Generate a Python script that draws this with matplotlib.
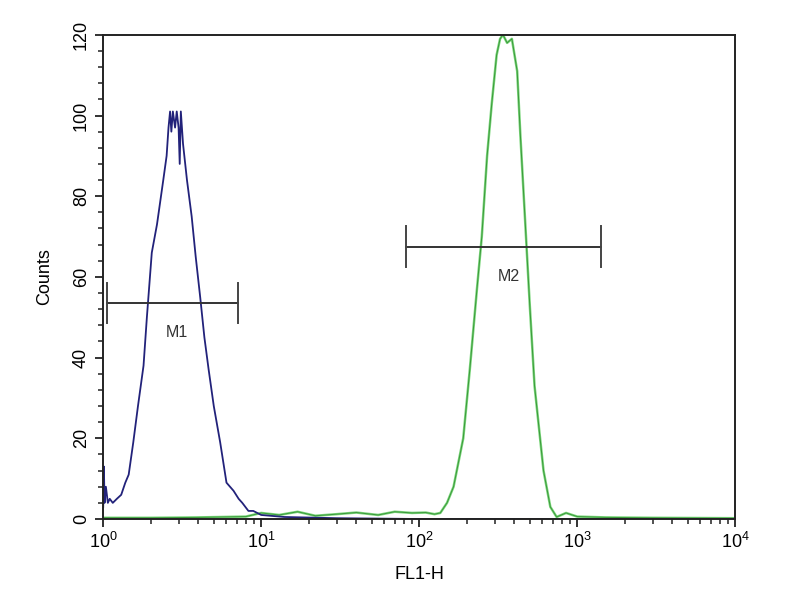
"""
Flow cytometry histogram, FL1-H
"""
import numpy as np
import matplotlib
matplotlib.use('Agg')
import matplotlib.pyplot as plt
from matplotlib.ticker import MultipleLocator, LogLocator

plt.rcParams['font.family'] = ['Liberation Sans', 'DejaVu Sans']
plt.rcParams['mathtext.fontset'] = 'custom'
plt.rcParams['mathtext.rm'] = 'Liberation Sans'

# control (blue) histogram
blue_x = [1.0, 1.01, 1.02, 1.04, 1.07, 1.1, 1.15, 1.22, 1.3, 1.38, 1.45, 1.55,
          1.66, 1.80, 1.89, 2.03, 2.19, 2.40, 2.52, 2.59, 2.65, 2.70, 2.76,
          2.85, 2.92, 3.0, 3.05, 3.10, 3.2, 3.39, 3.63, 3.85, 4.11, 4.37,
          4.65, 5.01, 5.50, 6.03, 6.68, 7.2, 7.59, 8.3, 8.91, 10.0, 14.0,
          30.0, 100.0, 1000.0, 10000.0]
blue_y = [3, 13, 4, 8, 4, 5, 4, 5, 6, 9, 11, 19,
          28, 38, 50, 66, 73, 84, 90, 97, 101, 96, 101,
          97, 101, 97, 88, 101, 93, 84, 75, 65, 55, 45,
          37, 28, 19, 9, 7, 5, 4, 2, 2, 1, 0.5,
          0.2, 0, 0, 0]

# antibody stained (green) histogram
green_x = [1.0, 2.0, 4.0, 8.0, 10.0, 13.0, 17.0, 22.0, 30.0, 40.0, 55.0,
           70.0, 90.0, 110.0, 125.0, 136.0, 150.0, 165.0, 190.0, 209.0,
           232.0, 249.0, 269.0, 288.0, 309.0, 325.0, 339.0, 360.0, 386.0,
           417.0, 437.0, 468.0, 501.0, 537.0, 575.0, 612.0, 676.0, 741.0,
           850.0, 1000.0, 1500.0, 3000.0, 10000.0]
green_y = [0.3, 0.3, 0.4, 0.6, 1.5, 1.0, 1.8, 0.8, 1.2, 1.6, 1.0,
           1.8, 1.5, 1.6, 1.2, 1.5, 4, 8, 20, 37,
           57, 70, 90, 103, 115, 119, 120, 118, 119,
           111, 95, 74, 53, 33, 22, 12, 3, 0.5,
           1.5, 0.6, 0.4, 0.3, 0.2]

# marker gates: (name, start, end, height)
gate_names = ['M1', 'M2']
gate_start = [1.06, 83.0]
gate_end = [7.1, 1415.0]
gate_level = [53.5, 67.5]

fig = plt.figure(figsize=(8, 6), dpi=100)
ax = fig.add_axes([0.129, 0.135, 0.790, 0.807])

ax.plot(green_x, green_y, color='#5ccc5c', linewidth=1.8, alpha=0.8)
ax.plot(green_x, green_y, color='#3a9a3a', linewidth=0.7)
ax.plot(blue_x, blue_y, color='#22227a', linewidth=1.3)

for name, x0, x1, lev in zip(gate_names, gate_start, gate_end, gate_level):
    ax.plot([x0, x1], [lev, lev], color='#333333', linewidth=1.4)
    ax.plot([x0, x0], [lev - 5, lev + 5], color='#444444', linewidth=1.4)
    ax.plot([x1, x1], [lev - 5, lev + 5], color='#444444', linewidth=1.4)
    ax.text(np.sqrt(x0 * x1) * 1.07, lev - 5.5, name, ha='center', va='top',
            fontsize=11.5, color='#333333')

ax.set_xscale('log')
ax.set_xlim(1, 10000)
ax.set_ylim(0, 120)
ax.xaxis.set_major_locator(LogLocator(base=10))
ax.xaxis.set_minor_locator(LogLocator(base=10, subs=np.arange(2, 10)))
ax.yaxis.set_major_locator(MultipleLocator(20))
ax.yaxis.set_minor_locator(MultipleLocator(4))
ax.tick_params(which='major', length=6, width=1.3, labelsize=13, color='#222222')
ax.tick_params(which='minor', length=3.5, width=1.1, color='#222222')
for lab in ax.get_yticklabels():
    lab.set_rotation(90)
    lab.set_va('center')

for side in ax.spines.values():
    side.set_linewidth(1.4)
    side.set_color('#222222')

ax.set_xlabel('FL1-H', fontsize=13, labelpad=10)
ax.set_ylabel('Counts', fontsize=13, labelpad=14)

fig.savefig('out.png', dpi=100)
